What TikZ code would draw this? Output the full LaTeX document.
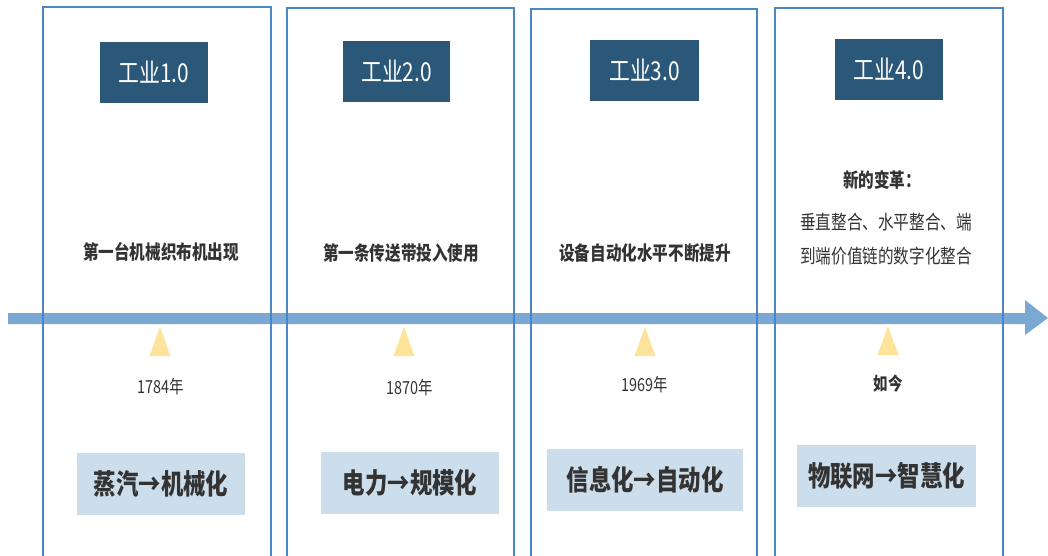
\documentclass[tikz,border=0pt]{standalone}
\usepackage{fontspec}
\newfontfamily\cjk[FakeStretch=0.8]{Noto Sans CJK SC}
\definecolor{panelblue}{HTML}{4A86C5}
\definecolor{arrowblue}{HTML}{7BA8D3}
\definecolor{navy}{HTML}{2B5779}
\definecolor{paleblue}{HTML}{CCDDEC}
\definecolor{tri}{HTML}{FDE49A}
\definecolor{ink}{HTML}{333333}
\tikzset{
  panel/.style={draw=panelblue, line width=2pt, anchor=north, minimum height=560pt},
  titlebox/.style={fill=navy, text=white, minimum width=108pt, minimum height=61pt, font=\cjk\fontsize{26}{28}\selectfont},
  label/.style={text=ink, font=\cjk\bfseries\fontsize{19.5}{22}\selectfont, align=center},
  year/.style={text=ink, font=\cjk\fontsize{18}{20}\selectfont},
  result/.style={fill=paleblue, text=ink, minimum height=62pt, font=\cjk\bfseries\fontsize{28}{30}\selectfont},
  marker/.style={fill=tri}
}
\begin{document}
\begin{tikzpicture}[x=1pt,y=-1pt]
\clip (0,0) rectangle (1048,555);
% timeline arrow
\coordinate (a0) at (8,318.5);
\coordinate (tip) at (1048,318);
\fill[arrowblue] (8,313) -- (1025,313) -- (1025,300) -- (tip) -- (1025,335) -- (1025,324) -- (8,324) -- cycle;
% panels
\node[panel, minimum width=228pt] (p1) at (157,6) {};
\node[panel, minimum width=227pt] (p2) at (400.5,7) {};
\node[panel, minimum width=226pt] (p3) at (644,8) {};
\node[panel, minimum width=228pt] (p4) at (889,7) {};
% titles
\node[titlebox] (t1) at (154,72) {工业1.0};
\node[titlebox, minimum width=107pt] (t2) at (396.5,71) {工业2.0};
\node[titlebox, minimum width=109pt] (t3) at (644.5,70.5) {工业3.0};
\node[titlebox] (t4) at (889,69) {工业4.0};
% labels
\node[label] (l1) at (161,252) {第一台机械织布机出现};
\node[label] (l2) at (401,253) {第一条传送带投入使用};
\node[label] (l3) at (645,253) {设备自动化水平不断提升};
\node[label] (l4a) at (882,180) {新的变革：};
\node[label, font=\cjk\fontsize{19.5}{22}\selectfont] (l4b) at (886,222) {垂直整合、水平整合、端};
\node[label, font=\cjk\fontsize{19.5}{22}\selectfont] (l4c) at (886,256) {到端价值链的数字化整合};
% markers
\fill[marker] (160,327) -- (170.5,356) -- (149.5,356) -- cycle;
\fill[marker] (404,327) -- (414.5,356) -- (393.5,356) -- cycle;
\fill[marker] (645,327) -- (655.5,356) -- (634.5,356) -- cycle;
\fill[marker] (888,326) -- (898.5,355) -- (877.5,355) -- cycle;
% years
\node[year] (y1) at (161,387) {1784年};
\node[year] (y2) at (410,388) {1870年};
\node[year] (y3) at (645,385) {1969年};
\node[year, font=\cjk\bfseries\fontsize{18}{20}\selectfont] (y4) at (888,384) {如今};
% results
\node[result, minimum width=168pt] (r1) at (161,483.5) {蒸汽→机械化};
\node[result, minimum width=178pt] (r2) at (410,483) {电力→规模化};
\node[result, minimum width=196pt] (r3) at (645,479.5) {信息化→自动化};
\node[result, minimum width=179pt] (r4) at (886.5,475.5) {物联网→智慧化};
\end{tikzpicture}
\end{document}
